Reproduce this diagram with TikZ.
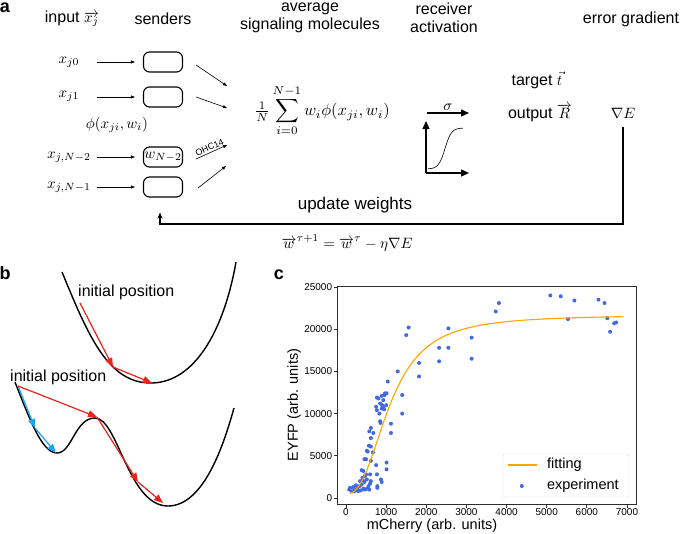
\documentclass[tikz,border=0pt]{standalone}
\usepackage[no-math]{fontspec}
\setmainfont{Liberation Sans}
\usetikzlibrary{arrows.meta}

\definecolor{stepred}{RGB}{235,35,25}
\definecolor{stepblue}{RGB}{25,165,245}
\definecolor{fitorange}{RGB}{255,165,0}
\definecolor{dotblue}{RGB}{65,105,225}
\definecolor{framegray}{RGB}{45,45,45}

\newcommand\mbig[1]{\scalebox{1.5}{\normalsize$#1$}}

\tikzset{
  panel/.style={font=\fontsize{18}{20}\selectfont\bfseries, inner sep=0pt},
  head/.style={font=\fontsize{16}{18}\selectfont, inner sep=0pt},
  mathlbl/.style={inner sep=0pt},
  sender/.style={draw, line width=1.1pt, rounded corners=6pt, minimum width=39pt,
    minimum height=20pt, inner sep=0pt},
  feed/.style={-{Triangle[length=4pt,width=3pt]}, line width=0.6pt},
  fbline/.style={-{Stealth[length=6pt,width=5pt]}, line width=1.3pt},
  sigline/.style={-{Triangle[length=8pt,width=7pt]}, line width=1.3pt},
  curve/.style={line width=1.4pt, black},
  stepline/.style={-{Triangle[length=9pt,width=7pt]}, line width=1.2pt},
  ticklbl/.style={font=\fontsize{10}{12}\selectfont, inner sep=1pt},
  axlbl/.style={font=\fontsize{14.5}{16}\selectfont, inner sep=0pt},
  expdot/.style={fill=dotblue}
}

\begin{document}
\begin{tikzpicture}[x=1pt, y=-1pt]
  \useasboundingbox (0,0) rectangle (685,533);

  % 1. Panel a: headings
  \node[panel] (pa) at (5,8) {a};
  \node[head] (hin) at (72,19) {input \mbig{\overrightarrow{x_j}}};
  \node[head] (hsend) at (163,19) {senders};
  \node[head, align=center] (havg) at (310,18) {average\\signaling molecules};
  \node[head, align=center] (hrec) at (444,18) {receiver\\activation};
  \node[head] (herr) at (631,19) {error gradient};

  % 2. Inputs and senders
  \node[mathlbl] (in0) at (69,62) {\mbig{x_{j0}}};
  \node[mathlbl] (in1) at (69,96) {\mbig{x_{j1}}};
  \node[mathlbl] (in2) at (69,157) {\mbig{x_{j,N-2}}};
  \node[mathlbl] (in3) at (69,187) {\mbig{x_{j,N-1}}};
  \node[sender] (s0) at (163,62) {};
  \node[sender] (s1) at (163,97) {};
  \node[sender] (s2) at (163,157) {\mbig{w_{N-2}}};
  \node[sender] (s3) at (163,187) {};
  \node[mathlbl] (phi) at (117,125) {\mbig{\phi(x_{ji},w_i)}};
  \foreach \s in {0,1,2,3}
    \draw[feed] ([xshift=-46pt]s\s.west) -- ([xshift=-8pt]s\s.west);

  % 3. Average of signaling molecules
  \node[inner sep=0pt] (avg) at (322,111)
    {\scalebox{1.65}{$\frac{1}{N}\displaystyle\sum_{i=0}^{N-1} w_i\phi(x_{ji},w_i)$}};
  \coordinate (m0) at (227,86);
  \coordinate (m1) at (227,108);
  \coordinate (m2) at (227,145);
  \coordinate (m3) at (226,166);
  \draw[feed] ([shift={(13pt,-3pt)}]s0.east) -- (m0);
  \draw[feed] ([shift={(13pt,0pt)}]s1.east) -- (m1);
  \draw[feed] ([shift={(13pt,-2pt)}]s2.east) -- (m2)
    node[midway, above, sloped, font=\fontsize{9}{10}\selectfont, inner sep=1.5pt] (ohc) {OHC14};
  \draw[feed] ([shift={(15pt,-1pt)}]s3.east) -- (m3);

  % 4. Receiver activation
  \coordinate (sg0) at (427,113);
  \coordinate (sg1) at (469,113);
  \draw[sigline] (sg0) -- (sg1) node[midway, above=2pt, inner sep=0pt] (sig) {\mbig{\sigma}};
  \coordinate (ax0) at (426,173);
  \draw[sigline] (ax0) -- (426,121);
  \draw[sigline] (ax0) -- (469,173);
  \draw[line width=0.6pt, smooth, samples=60, domain=428:463]
    plot (\x, {169-41/(1+exp(-(\x-445)/3.2))});

  % 5. Output and error
  \node[head] (tgt) at (537,80) {target \mbig{\vec{t}}};
  \node[head] (out) at (540,113) {output \mbig{\overrightarrow{R}}};
  \node[mathlbl] (grad) at (623,113) {\mbig{\nabla E}};
  \coordinate (fbend) at (160,224);
  \draw[fbline] ([yshift=-9pt]grad.south) |- (fbend) -- ([xshift=-3pt,yshift=-15pt]s3.south);
  \node[font=\fontsize{17}{19}\selectfont, inner sep=0pt] (upd) at (355,205) {update weights};
  \node[mathlbl] (rule) at (347,243)
    {\mbig{\overrightarrow{w}^{\tau+1}=\overrightarrow{w}^{\tau}-\eta\nabla E}};

  % 6. Panel b: loss landscapes
  \node[panel] (pb) at (5,273) {b};
  \draw[curve] (62,272) .. controls (88,335) and (108,384) .. (152,383)
    .. controls (195,382) and (224,330) .. (236,262);
  \node[head, anchor=west] (ip1) at (78,292) {initial position};
  \coordinate (u0) at (80,303);
  \coordinate (u1) at (113,367);
  \coordinate (u2) at (152,383);
  \draw[stepline, stepred] (u0) -- (u1);
  \draw[stepline, stepred] (u1) -- (u2);

  \draw[curve] (15,382) .. controls (30,420) and (42,453) .. (57,453)
    .. controls (72,453) and (75,418) .. (95,418)
    .. controls (118,418) and (128,506) .. (168,506)
    .. controls (205,506) and (225,440) .. (234,408);
  \node[head, anchor=west] (ip2) at (10,377) {initial position};
  \coordinate (l0) at (18,386);
  \coordinate (l1) at (97,417);
  \coordinate (l2) at (138,482);
  \coordinate (l3) at (163,503);
  \coordinate (b1) at (35,428);
  \coordinate (b2) at (56,453);
  \draw[stepline, stepblue] (l0) -- (b1);
  \draw[stepline, stepblue] (b1) -- (b2);
  \draw[stepline, stepred] (l0) -- (l1);
  \draw[stepline, stepred] (l1) -- (l2);
  \draw[stepline, stepred] (l2) -- (l3);

  % 7. Panel c: dose response
  \node[panel] (pc) at (279,275) {c};
  \draw[framegray, line width=0.9pt] (337,286) rectangle (636,504);
  \foreach \t/\lab in {0/0,1/1000,2/2000,3/3000,4/4000,5/5000,6/6000,7/7000}
    \draw[framegray, line width=0.8pt] ({346+40.14*\t},504) -- ++(0,3.5)
      node[below, ticklbl, text=black] {\lab};
  \foreach \v/\lab in {0/0,5/5000,10/10000,15/15000,20/20000,25/25000}
    \draw[framegray, line width=0.8pt] (337,{498-8.44*\v}) -- ++(-3.5,0)
      node[left, ticklbl, text=black] {\lab};
  \node[axlbl] (xl) at (432,526) {mCherry (arb. units)};
  \node[axlbl, rotate=90] (yl) at (294,405) {EYFP (arb. units)};

  \begin{scope}[shift={(346,498)}, x=40.14pt, y=8.44pt]
    \foreach \px/\py in {5.09/24.0,5.35/23.9,5.69/23.4,6.29/23.5,6.44/23.1,5.53/21.2,
        6.51/21.3,6.58/19.7,6.68/20.7,6.73/20.8,3.81/23.1,3.73/22.1,1.56/20.2,1.50/19.3,
        2.55/20.1,2.32/17.8,2.55/17.8,2.32/16.2,3.13/19.0,3.13/16.5,1.82/16.0,1.82/14.4,
        1.29/15.0,1.04/13.8,1.40/12.2,1.40/10.0,1.12/8.8,1.12/7.7,1.01/4.2,1.01/3.4,
        0.97/12.4,1.01/12.4,0.89/12.1,0.93/11.6,0.77/11.9,0.81/11.8,0.85/11.2,0.93/10.7,
        0.89/10.6,0.75/10.8,0.77/10.4,0.83/10.0,0.85/9.1,0.86/8.9,0.68/7.7,0.62/8.3,
        0.58/7.9,0.62/7.1,0.57/6.2,0.62/6.1,0.67/5.4,0.52/5.6,0.54/5.5,0.50/4.6,
        0.46/4.6,0.62/4.4,0.75/3.9,0.77/2.8,0.60/2.8,0.39/3.3,0.43/3.2,0.87/2.2,
        0.89/1.9,0.78/1.4,0.78/1.2,0.62/2.0,0.60/1.7,0.10/1.2,0.08/1.0,0.14/0.8,
        0.18/1.3,0.25/1.0,0.31/0.9,0.37/0.9,0.43/1.1,0.47/1.0,0.52/1.1,0.35/2.0,
        0.42/2.1,0.47/2.6,0.52/2.2,0.56/1.4,0.39/1.6,0.28/1.2,0.20/0.9,0.33/1.4,
        0.46/1.9,0.58/1.0,0.41/2.4,0.50/2.8,0.90/11.0,0.95/10.5,1.00/11.0,0.96/12.2,
        0.20/0.8,0.30/0.8,0.25/1.5}
      \fill[expdot] (\px,\py) circle (2pt);
    \draw[fitorange, line width=1.1pt, smooth, samples=120, domain=0.1:6.9]
      plot (\x, {0.5+21.2*pow(\x,2.5)/(1.2691+pow(\x,2.5))});
  \end{scope}

  % 8. Legend
  \node[draw=black!15, rounded corners=2pt, fill=white, minimum width=126pt,
    minimum height=43pt, inner sep=0pt] (leg) at (566,475.5) {};
  \draw[fitorange, line width=1.1pt] ([xshift=5pt,yshift=10.5pt]leg.west) -- ++(29,0);
  \node[axlbl, anchor=west] (lfit) at ([xshift=44pt,yshift=10.5pt]leg.west) {fitting};
  \fill[expdot] ([xshift=19pt,yshift=-10.5pt]leg.west) circle (2pt);
  \node[axlbl, anchor=west] (lexp) at ([xshift=44pt,yshift=-10.5pt]leg.west) {experiment};
\end{tikzpicture}
\end{document}
